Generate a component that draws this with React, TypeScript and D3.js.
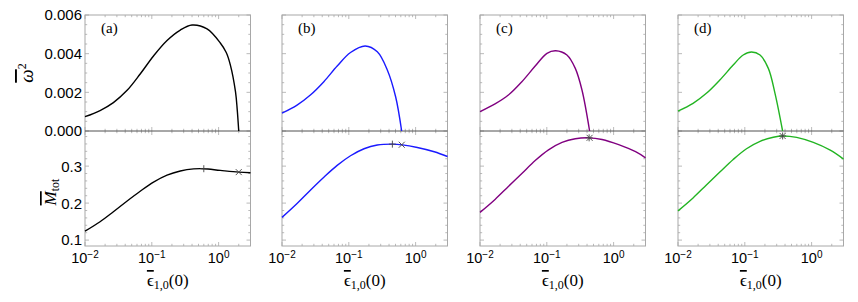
import * as d3 from "d3";

// panel labels and line colours
const panelLabels = ["(a)", "(b)", "(c)", "(d)"];
const panelColors = ["#000000", "#1a1aff", "#800080", "#22b422"];

// top row: omega^2 vs eps_{1,0}(0)
const omegaA: [number, number][] = [
  [0.01, 0.00074], [0.0168, 0.00106], [0.0266, 0.00147], [0.0423, 0.00209],
  [0.067, 0.00295], [0.106, 0.00388], [0.169, 0.00468], [0.267, 0.00522],
  [0.4, 0.00548], [0.671, 0.00528], [1.06, 0.00455], [1.3, 0.00406],
  [1.5, 0.00341], [1.79, 0.00202], [1.9, 0.00109], [2.0, 0],
];
const omegaB: [number, number][] = [
  [0.01, 0.00092], [0.0168, 0.00134], [0.0266, 0.00186], [0.0423, 0.00255],
  [0.067, 0.00336], [0.106, 0.00406], [0.176, 0.0044], [0.267, 0.0041],
  [0.377, 0.00316], [0.502, 0.00177], [0.618, 0],
];
const omegaC: [number, number][] = [
  [0.01, 0.001], [0.0168, 0.0014], [0.0266, 0.00186], [0.0423, 0.00255],
  [0.067, 0.00336], [0.1005, 0.00402], [0.136, 0.00415], [0.2, 0.00393],
  [0.267, 0.00324], [0.336, 0.00212], [0.437, 0],
];
const omegaD: [number, number][] = [
  [0.01, 0.00103], [0.0168, 0.00143], [0.0266, 0.00195], [0.0423, 0.00264],
  [0.067, 0.00341], [0.0946, 0.00393], [0.126, 0.00409], [0.169, 0.00393],
  [0.225, 0.00324], [0.283, 0.00195], [0.368, 0],
];

// bottom row: M_tot vs eps_{1,0}(0)
const massA: [number, number][] = [
  [0.01, 0.124], [0.0168, 0.1495], [0.0266, 0.1765], [0.0423, 0.205],
  [0.067, 0.232], [0.106, 0.2568], [0.169, 0.2757], [0.267, 0.2868],
  [0.423, 0.2925], [0.6, 0.293], [1.06, 0.2885], [2.0, 0.2838], [3.0, 0.282],
];
const massB: [number, number][] = [
  [0.01, 0.1614], [0.0168, 0.199], [0.0266, 0.235], [0.0423, 0.27],
  [0.067, 0.302], [0.106, 0.328], [0.169, 0.347], [0.267, 0.357],
  [0.449, 0.3595], [0.634, 0.3576], [1.06, 0.3505], [1.9, 0.339], [3.0, 0.326],
];
const massC: [number, number][] = [
  [0.01, 0.1749], [0.0168, 0.21], [0.0266, 0.245], [0.0423, 0.28],
  [0.067, 0.315], [0.106, 0.344], [0.169, 0.364], [0.267, 0.374],
  [0.423, 0.3765], [0.671, 0.372], [1.19, 0.358], [2.13, 0.339], [3.0, 0.3224],
];
const massD: [number, number][] = [
  [0.01, 0.179], [0.0168, 0.214], [0.0266, 0.249], [0.0423, 0.284],
  [0.067, 0.318], [0.106, 0.347], [0.169, 0.367], [0.267, 0.378],
  [0.37, 0.3816], [0.597, 0.3776], [1.06, 0.364], [1.9, 0.343], [3.0, 0.319],
];

// "+" and "x" markers on the M_tot curves
const plusMarks: [number, number][] = [[0.6, 0.293], [0.449, 0.3595], [0.43, 0.3765], [0.368, 0.3816]];
const crossMarks: [number, number][] = [[2.0, 0.2838], [0.62, 0.3578], [0.437, 0.3765], [0.368, 0.3816]];

// ticks
const omegaTicks = [0, 0.002, 0.004, 0.006];
const omegaTickLabels = ["0.000", "0.002", "0.004", "0.006"];
const massTicks = [0.1, 0.2, 0.3];
const massTickLabels = ["0.1", "0.2", "0.3"];
const epsTicks = [0.01, 0.1, 1];
const epsTickExponents = ["\u22122", "\u22121", "0"];

const omegaSeries = [omegaA, omegaB, omegaC, omegaD];
const massSeries = [massA, massB, massC, massD];

const W = 858;
const H = 302;
const lefts = [85, 282, 480, 678];
const pw = 165.5;
const yTop = 15;
const yMid = 131;
const yBot = 246;

const frameColor = "#a8a8a8";
const sans = "'Liberation Sans', Arial, sans-serif";
const serif = "'Liberation Serif', 'DejaVu Serif', serif";

const epsMinor = d3
  .range(-2, 1)
  .flatMap((e) => d3.range(2, 10).map((k) => k * Math.pow(10, e)))
  .filter((v) => v < 3);
const omegaMinor = d3.range(0.0005, 0.006, 0.0005).filter((v) => Math.abs(v / 0.002 - Math.round(v / 0.002)) > 1e-6);
const massMinor = d3.range(0.1, 0.395, 0.02).filter((v) => Math.abs(v * 10 - Math.round(v * 10)) > 1e-6);

function Panel({ i }: { i: number }) {
  const left = lefts[i];
  const right = left + pw;
  const x = d3.scaleLog().domain([0.01, 3]).range([left, right]);
  const yT = d3.scaleLinear().domain([0, 0.006]).range([yMid, yTop]);
  const yB = d3.scaleLinear().domain([0.084, 0.395]).range([yBot, yMid]);

  const topLine = d3
    .line<[number, number]>()
    .x((d) => x(d[0]))
    .y((d) => yT(d[1]))
    .curve(d3.curveCatmullRom.alpha(0.5));
  const botLine = d3
    .line<[number, number]>()
    .x((d) => x(d[0]))
    .y((d) => yB(d[1]))
    .curve(d3.curveCatmullRom.alpha(0.5));

  const ticks: any[] = [];
  const tk = (x1: number, y1: number, x2: number, y2: number, key: string) =>
    ticks.push(<line key={key} x1={x1} y1={y1} x2={x2} y2={y2} stroke={frameColor} strokeWidth={0.8} />);

  // x ticks on every horizontal frame edge
  const edges: [number, number][] = [[yTop, 1], [yMid, -1], [yMid, 1], [yBot, -1]];
  edges.forEach(([yy, dir], ei) => {
    epsTicks.forEach((t, j) => tk(x(t), yy, x(t), yy + dir * 4, `xm${ei}-${j}`));
    epsMinor.forEach((t, j) => tk(x(t), yy, x(t), yy + dir * 2.2, `xn${ei}-${j}`));
  });
  // y ticks, left and right
  [[left, 1], [right, -1]].forEach(([xx, dir], si) => {
    omegaTicks.forEach((t, j) => tk(xx, yT(t), xx + dir * 4, yT(t), `om${si}-${j}`));
    omegaMinor.forEach((t, j) => tk(xx, yT(t), xx + dir * 2.2, yT(t), `on${si}-${j}`));
    massTicks.forEach((t, j) => tk(xx, yB(t), xx + dir * 4, yB(t), `mm${si}-${j}`));
    massMinor.forEach((t, j) => tk(xx, yB(t), xx + dir * 2.2, yB(t), `mn${si}-${j}`));
  });

  const plus = plusMarks[i];
  const cross = crossMarks[i];
  const s = 3.5;

  return (
    <g>
      <rect x={left} y={yTop} width={pw} height={yBot - yTop} fill="none" stroke={frameColor} strokeWidth={1} />
      {ticks}
      <line x1={left} x2={right} y1={yMid} y2={yMid} stroke="#505050" strokeWidth={1} />
      <path d={topLine(omegaSeries[i]) || ""} fill="none" stroke={panelColors[i]} strokeWidth={1.4} />
      <path d={botLine(massSeries[i]) || ""} fill="none" stroke={panelColors[i]} strokeWidth={1.4} />
      <g stroke="#444" strokeWidth={0.9}>
        <line x1={x(plus[0])} x2={x(plus[0])} y1={yB(plus[1]) - s} y2={yB(plus[1]) + s} />
        <line x1={x(plus[0]) - s} x2={x(plus[0]) + s} y1={yB(plus[1])} y2={yB(plus[1])} />
        <line x1={x(cross[0]) - 3} x2={x(cross[0]) + 3} y1={yB(cross[1]) - 3} y2={yB(cross[1]) + 3} />
        <line x1={x(cross[0]) - 3} x2={x(cross[0]) + 3} y1={yB(cross[1]) + 3} y2={yB(cross[1]) - 3} />
      </g>
      <text x={left + 16} y={33} style={{ fontFamily: serif, fontSize: 15 }} fill="#000">
        {panelLabels[i]}
      </text>
      {epsTicks.map((t, j) => (
        <text key={j} x={x(t)} y={262.5} textAnchor="middle" style={{ fontFamily: sans, fontSize: 14.5 }} fill="#000">
          10
          <tspan dy={-4.5} style={{ fontSize: 10 }}>
            {epsTickExponents[j]}
          </tspan>
        </text>
      ))}
      <text x={left + pw / 2} y={286} textAnchor="middle" style={{ fontFamily: serif, fontSize: 17 }} fill="#000">
        <tspan style={{ textDecoration: "overline" }}>{"\u03f5"}</tspan>
        <tspan dy={3} style={{ fontSize: 12 }}>1,0</tspan>
        <tspan dy={-3}>(0)</tspan>
      </text>
      {i === 0 && (
        <g style={{ fontFamily: sans, fontSize: 15 }} fill="#000" textAnchor="end">
          {omegaTicks.map((t, j) => (
            <text key={`ot${j}`} x={82} y={yT(t)} dy="0.36em">
              {omegaTickLabels[j]}
            </text>
          ))}
          {massTicks.map((t, j) => (
            <text key={`mt${j}`} x={82} y={yB(t)} dy="0.36em">
              {massTickLabels[j]}
            </text>
          ))}
        </g>
      )}
    </g>
  );
}

export default function App() {
  return (
    <svg width={W} height={H} style={{ position: "absolute", left: 0, top: 0, background: "#fff" }}>
      <rect width={W} height={H} fill="#fff" />
      {lefts.map((_, i) => (
        <Panel key={i} i={i} />
      ))}
      <text transform="translate(33,73) rotate(-90)" textAnchor="middle" style={{ fontFamily: serif, fontSize: 19 }} fill="#000">
        <tspan style={{ fontStyle: "italic", textDecoration: "overline" }}>{"\u03c9"}</tspan>
        <tspan dy={-7} style={{ fontSize: 12 }}>2</tspan>
      </text>
      <text transform="translate(56,192) rotate(-90)" textAnchor="middle" style={{ fontFamily: serif, fontSize: 17 }} fill="#000">
        <tspan style={{ fontStyle: "italic", textDecoration: "overline" }}>M</tspan>
        <tspan dy={3} style={{ fontSize: 12 }}>tot</tspan>
      </text>
    </svg>
  );
}
